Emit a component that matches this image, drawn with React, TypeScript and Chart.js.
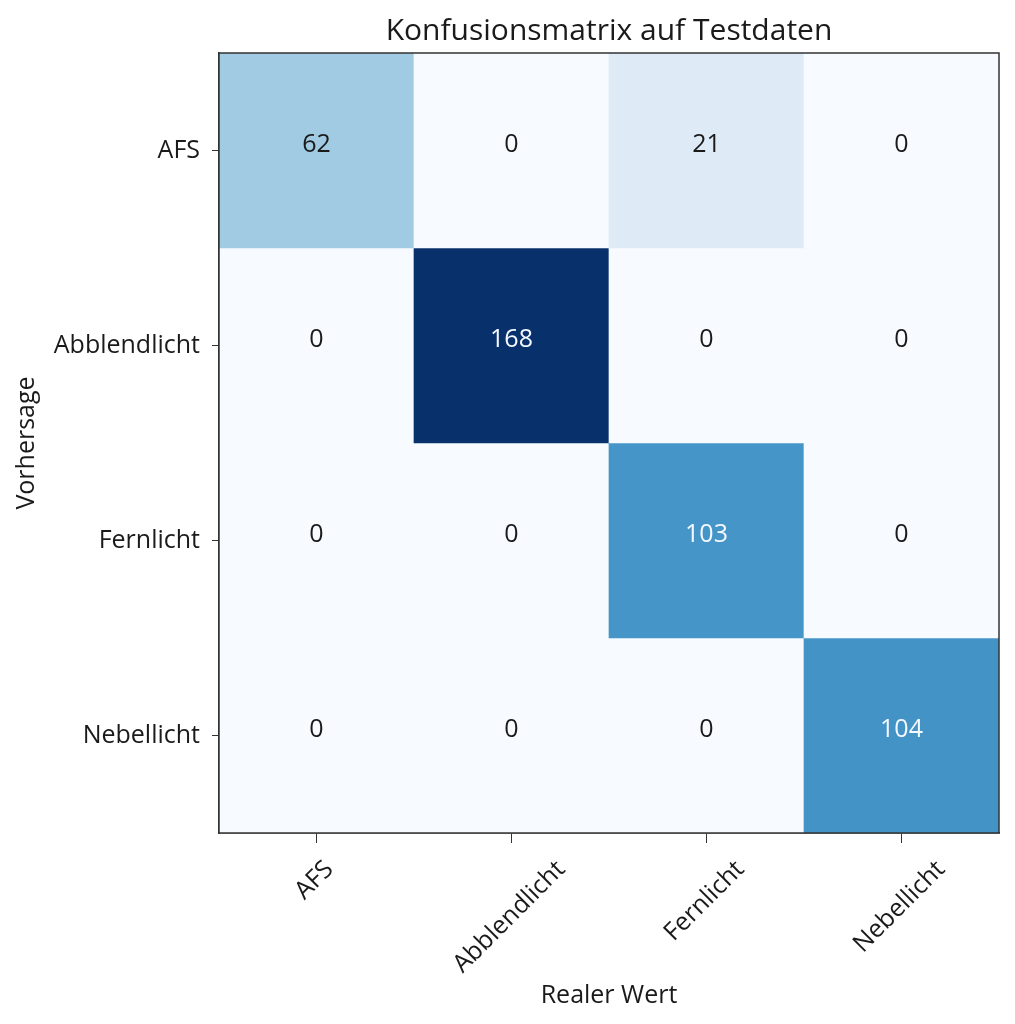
import React, { useEffect, useRef } from "react";
import { Chart, registerables } from "chart.js";

Chart.register(...registerables);

const title = "Konfusionsmatrix auf Testdaten";
const xAxisTitle = "Realer Wert";
const yAxisTitle = "Vorhersage";
const columnLabels = ["AFS", "Abblendlicht", "Fernlicht", "Nebellicht"];
const rowLabels = ["AFS", "Abblendlicht", "Fernlicht", "Nebellicht"];
const rowAFS = [62, 0, 21, 0];
const rowAbblendlicht = [0, 168, 0, 0];
const rowFernlicht = [0, 0, 103, 0];
const rowNebellicht = [0, 0, 0, 104];
const matrix = [rowAFS, rowAbblendlicht, rowFernlicht, rowNebellicht];

const BLUES = ["#f7fbff", "#deebf7", "#c6dbef", "#9ecae1", "#6baed6", "#4292c6", "#2171b5", "#08519c", "#08306b"];
const FONT = "'Open Sans', 'DejaVu Sans', sans-serif";
const TEXT = "#1a1a1a";

function hexToRgb(h: string) {
  return [parseInt(h.slice(1, 3), 16), parseInt(h.slice(3, 5), 16), parseInt(h.slice(5, 7), 16)];
}
function blues(t: number) {
  const x = Math.max(0, Math.min(1, t)) * (BLUES.length - 1);
  const i = Math.min(Math.floor(x), BLUES.length - 2);
  const f = x - i;
  const a = hexToRgb(BLUES[i]);
  const b = hexToRgb(BLUES[i + 1]);
  const c = a.map((v, k) => Math.round(v + (b[k] - v) * f));
  return `rgb(${c[0]},${c[1]},${c[2]})`;
}

export default function App() {
  const ref = useRef<HTMLCanvasElement | null>(null);
  useEffect(() => {
    document.body.style.margin = "0";
    const maxV = Math.max(...matrix.flat());
    const datasets = matrix.map((row, r) => ({
      label: rowLabels[r],
      data: row.map(() => [r - 0.5, r + 0.5]),
      backgroundColor: row.map((v) => blues(v / maxV)),
      borderWidth: 0,
      barPercentage: 1,
      categoryPercentage: 1,
      grouped: false,
    }));
    const cellText = {
      id: "cellText",
      afterDatasetsDraw(chart: any) {
        const { ctx, scales, chartArea } = chart;
        ctx.save();
        ctx.font = `25px ${FONT}`;
        ctx.textAlign = "center";
        ctx.textBaseline = "middle";
        matrix.forEach((row, r) => {
          row.forEach((v, c) => {
            const x = scales.x.getPixelForValue(c);
            const y = scales.y.getPixelForValue(r);
            ctx.fillStyle = v > maxV / 2 ? "#f4f8ff" : TEXT;
            ctx.fillText(String(v), x, y - 6);
          });
        });
        ctx.strokeStyle = "#333333";
        ctx.lineWidth = 1.5;
        ctx.strokeRect(chartArea.left, chartArea.top, chartArea.right - chartArea.left, chartArea.bottom - chartArea.top);
        ctx.restore();
      },
      afterDraw(chart: any) {
        // x tick labels rotated 45°, bounding box centred on each tick
        const { ctx, scales, chartArea } = chart;
        const size = 25;
        ctx.save();
        ctx.font = `${size}px ${FONT}`;
        ctx.fillStyle = TEXT;
        ctx.textAlign = "center";
        ctx.textBaseline = "middle";
        const h = size * 0.95;
        columnLabels.forEach((lab, c) => {
          const w = ctx.measureText(lab).width;
          const box = (w + h) / Math.SQRT2;
          const cx = scales.x.getPixelForValue(c) - 2;
          const cy = chartArea.bottom + 24 + box / 2;
          ctx.save();
          ctx.translate(cx, cy);
          ctx.rotate(-Math.PI / 4);
          ctx.fillText(lab, 0, 0);
          ctx.restore();
        });
        ctx.restore();
      },
    };
    const chart = new Chart(ref.current!, {
      type: "bar",
      data: { labels: columnLabels, datasets: datasets as any },
      options: {
        responsive: false,
        animation: false,
        layout: { padding: { left: 0, right: 16, top: 0, bottom: 0 } },
        plugins: {
          legend: { display: false },
          tooltip: { enabled: false },
          title: {
            display: true,
            fullSize: false,
            text: title,
            color: TEXT,
            font: { family: FONT, size: 30, weight: "normal" },
            padding: { top: 13, bottom: 4 },
          },
        },
        scales: {
          x: {
            type: "category",
            offset: true,
            grid: { offset: false, drawOnChartArea: false, tickLength: 10, color: "#333333" },
            border: { display: true, color: "#333333", width: 1.5 },
            ticks: { display: false },
            title: {
              display: true,
              text: xAxisTitle,
              color: TEXT,
              font: { family: FONT, size: 25 },
              padding: { top: 0, bottom: 13 },
            },
            afterFit(scale: any) {
              scale.height = 191;
            },
          },
          y: {
            type: "linear",
            min: -0.5,
            max: 3.5,
            reverse: true,
            afterBuildTicks(scale: any) {
              scale.ticks = rowLabels.map((_, i) => ({ value: i }));
            },
            grid: { drawOnChartArea: false, tickLength: 7, color: "#333333" },
            border: { display: true, color: "#333333", width: 1.5 },
            ticks: {
              color: TEXT,
              font: { family: FONT, size: 25 },
              padding: 12,
              callback: (v: any) => rowLabels[v] ?? "",
            },
            title: {
              display: true,
              text: yAxisTitle,
              color: TEXT,
              font: { family: FONT, size: 25 },
              padding: { top: 12, bottom: 0 },
            },
            afterFit(scale: any) {
              scale.width = 219;
            },
          },
        },
      } as any,
      plugins: [cellText],
    });
    return () => chart.destroy();
  }, []);
  return (
    <div style={{ width: 1015, height: 1024 }}>
      <canvas ref={ref} width={1015} height={1024} />
    </div>
  );
}
